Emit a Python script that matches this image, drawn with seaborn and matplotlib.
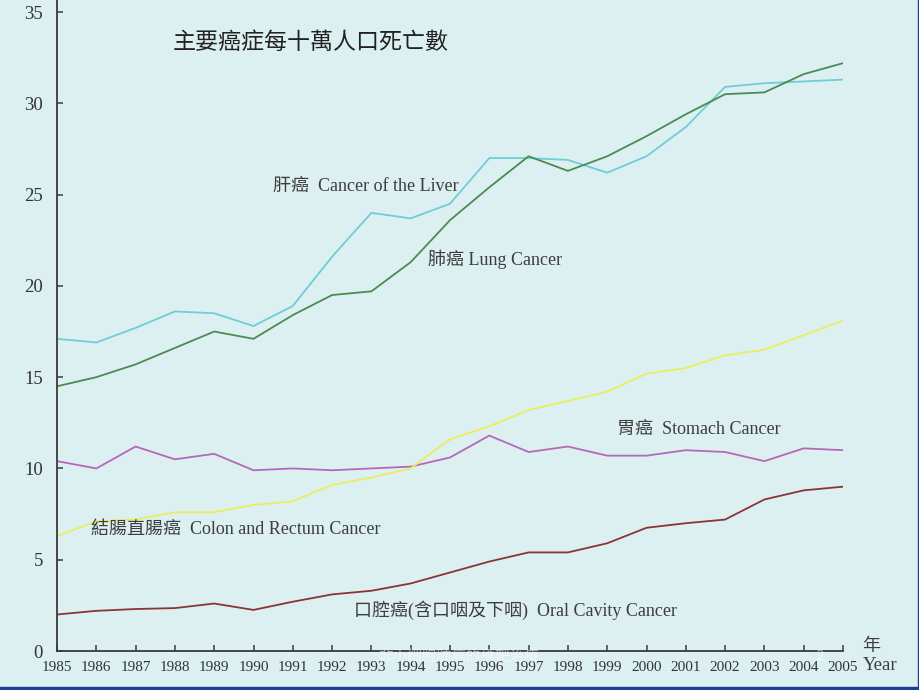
import pandas as pd
import matplotlib.pyplot as plt
import seaborn as sns
from matplotlib.patches import Rectangle

# data
years = list(range(1985, 2006))
liver = [17.1, 16.9, 17.7, 18.6, 18.5, 17.8, 18.9, 21.6, 24.0, 23.7, 24.5,
         27.0, 27.0, 26.9, 26.2, 27.1, 28.7, 30.9, 31.1, 31.2, 31.3]
lung = [14.5, 15.0, 15.7, 16.6, 17.5, 17.1, 18.4, 19.5, 19.7, 21.3, 23.6,
        25.4, 27.1, 26.3, 27.1, 28.2, 29.4, 30.5, 30.6, 31.6, 32.2]
stomach = [10.4, 10.0, 11.2, 10.5, 10.8, 9.9, 10.0, 9.9, 10.0, 10.1, 10.6,
           11.8, 10.9, 11.2, 10.7, 10.7, 11.0, 10.9, 10.4, 11.1, 11.0]
colon = [6.3, 7.1, 7.2, 7.6, 7.6, 8.0, 8.2, 9.1, 9.5, 10.0, 11.6,
         12.3, 13.2, 13.7, 14.2, 15.2, 15.5, 16.2, 16.5, 17.3, 18.1]
oral = [2.0, 2.2, 2.3, 2.35, 2.6, 2.25, 2.7, 3.1, 3.3, 3.7, 4.3,
        4.9, 5.4, 5.4, 5.9, 6.75, 7.0, 7.2, 8.3, 8.8, 9.0]

series = ['liver', 'lung', 'stomach', 'colon', 'oral']
colors = {'liver': '#6fcdd6', 'lung': '#4b8a52', 'stomach': '#b767b8',
          'colon': '#ecec5c', 'oral': '#8b3336'}

df = pd.DataFrame({'year': years, 'liver': liver, 'lung': lung,
                   'stomach': stomach, 'colon': colon, 'oral': oral})
long = df.melt(id_vars='year', var_name='cancer', value_name='rate')

bg = '#dcf0f2'
sns.set_style('ticks')
plt.rcParams['font.family'] = ['Liberation Serif', 'Noto Sans CJK TC']

fig = plt.figure(figsize=(9.2, 6.9), dpi=100, facecolor=bg)
ax = fig.add_axes([57/920, 39/690, 786/920, 651/690])
ax.set_facecolor(bg)

sns.lineplot(data=long, x='year', y='rate', hue='cancer', hue_order=series,
             palette=colors, linewidth=1.3, legend=False, ax=ax)

ax.set_xlim(1985, 2005)
ax.set_ylim(0, 35.66)
ax.set_xticks(years)
ax.set_yticks(range(0, 36, 5))
ax.set_xlabel('')
ax.set_ylabel('')
sns.despine(ax=ax)
for s in ['left', 'bottom']:
    ax.spines[s].set_color('#3a3a3a')
    ax.spines[s].set_linewidth(1.3)
ax.tick_params(axis='both', direction='in', length=4, width=1.1, color='#3a3a3a')
ax.tick_params(axis='x', labelsize=11, labelcolor='#333333', pad=7)
ax.tick_params(axis='y', labelsize=13.5, labelcolor='#333333', pad=10)

txt = '#3d3d3d'
ax.text(0.147, 0.934, '主要癌症每十萬人口死亡數', transform=ax.transAxes,
        fontsize=16.6, color='#222222', va='center', ha='left')
ax.text(1990.5, 25.47, '肝癌  Cancer of the Liver', fontsize=13, color=txt, va='center')
ax.text(1994.44, 21.47, '肺癌 Lung Cancer', fontsize=13, color=txt, va='center')
ax.text(1999.25, 12.16, '胃癌  Stomach Cancer', fontsize=13, color=txt, va='center')
ax.text(1985.87, 6.68, '結腸直腸癌  Colon and Rectum Cancer', fontsize=13, color=txt, va='center')
ax.text(1992.56, 2.25, '口腔癌(含口咽及下咽)  Oral Cavity Cancer', fontsize=13, color=txt, va='center')

fig.text(871/920, 1 - 647/690, '年', fontsize=13, color=txt, ha='center', va='center')
fig.text(863/920, 1 - 666/690, 'Year', fontsize=13.5, color=txt, ha='left', va='center')

# faint slide footer
fig.text(378/920, 1 - 657/690, '非小細胞肺癌的標靶治療', fontsize=10.5,
         color='white', alpha=0.55, ha='left', va='center')
fig.text(820/920, 1 - 657/690, '2', fontsize=10, color='white', alpha=0.7,
         ha='center', va='center')

# slide border
fig.add_artist(Rectangle((0, 0), 1, 3.5/690, transform=fig.transFigure,
                         color='#1d3c9c', zorder=10))
fig.add_artist(Rectangle((918/920, 0), 2/920, 1, transform=fig.transFigure,
                         color='#1d3c9c', zorder=10))

plt.savefig('out.png', dpi=100, facecolor=bg)
